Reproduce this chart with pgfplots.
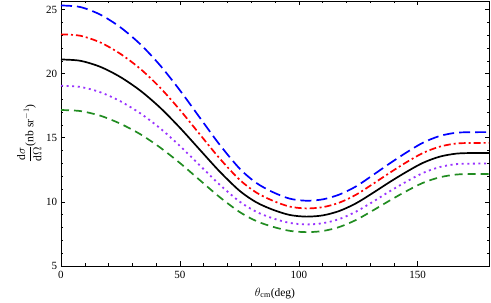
\documentclass[border=0pt]{standalone}
\usepackage{amsmath}
\usepackage{fontspec}
\setmainfont{Liberation Serif}
\usepackage{pgfplots}
\pgfplotsset{compat=1.18}
\usetikzlibrary{calc}
\definecolor{cblue}{rgb}{0,0,1}
\definecolor{cred}{rgb}{1,0,0}
\definecolor{cpurple}{rgb}{0.6,0.2,1}
\definecolor{cgreen}{rgb}{0.13,0.55,0.13}
\begin{document}
\fontsize{11bp}{13bp}\selectfont
\begin{tikzpicture}
\begin{axis}[
  scale only axis,
  width=428bp, height=265bp,
  xmin=0, xmax=180, ymin=5, ymax=25.66,
  xtick={0,50,100,150}, ytick={5,10,15,20,25},
  minor x tick num=4, minor y tick num=4,
  tick align=inside,
  major tick length=4.5bp, minor tick length=2.5bp,
  tick style={black, line width=0.5pt},
  axis line style={line width=0.6pt},
  /pgf/number format/assume math mode=true,
  ticklabel style={font=\fontsize{11bp}{13bp}\selectfont},
  label style={font=\fontsize{11.5bp}{13bp}\selectfont},
  xticklabel style={yshift=-1bp},
  xlabel={$\theta_{\mathrm{cm}}$(deg)},
  ylabel={$\dfrac{\mathrm{d}\sigma}{\mathrm{d}\Omega}$(nb sr$^{-1}$)},
  xlabel style={yshift=-2bp},
  ylabel style={yshift=-3bp},
  clip=true,
]
\addplot[cblue, line width=1.7bp, dash pattern=on 11bp off 5bp, smooth] coordinates {
(0,25.31)(8.1,25.19)(16.5,24.60)(24.9,23.62)(33.3,22.30)(41.6,20.66)(50,18.70)(58.4,16.56)(66.8,14.44)(75.2,12.58)(82.2,11.47)(89.2,10.75)(96.2,10.25)(103.2,10.09)(110.2,10.20)(117.2,10.58)(124.2,11.22)(131.2,12.09)(138.2,12.99)(145.2,13.84)(152.2,14.61)(159.2,15.13)(166.2,15.39)(173.2,15.43)(180,15.44)};
\addplot[cred, line width=1.7bp, dash pattern=on 7bp off 3bp on 2bp off 3bp, smooth] coordinates {
(0,23.06)(8.1,22.95)(16.5,22.43)(24.9,21.55)(33.3,20.38)(41.6,18.92)(50,17.17)(58.4,15.26)(66.8,13.37)(75.2,11.71)(82.2,10.72)(89.2,10.08)(96.2,9.63)(103.2,9.49)(110.2,9.59)(117.2,9.95)(124.2,10.57)(131.2,11.40)(138.2,12.26)(145.2,13.08)(152.2,13.81)(159.2,14.30)(166.2,14.55)(173.2,14.59)(180,14.60)};
\addplot[black, line width=1.7bp, smooth] coordinates {
(0,21.10)(8.1,21.00)(16.5,20.53)(24.9,19.74)(33.3,18.68)(41.6,17.36)(50,15.78)(58.4,14.06)(66.8,12.35)(75.2,10.85)(82.2,9.96)(89.2,9.38)(96.2,8.98)(103.2,8.85)(110.2,8.95)(117.2,9.30)(124.2,9.90)(131.2,10.70)(138.2,11.54)(145.2,12.33)(152.2,13.04)(159.2,13.52)(166.2,13.76)(173.2,13.81)(180,13.81)};
\addplot[cpurple, line width=1.8bp, dash pattern=on 2bp off 3.6bp, smooth] coordinates {
(0,19.05)(8.1,18.96)(16.5,18.55)(24.9,17.85)(33.3,16.91)(41.6,15.75)(50,14.36)(58.4,12.84)(66.8,11.33)(75.2,10.01)(82.2,9.22)(89.2,8.71)(96.2,8.36)(103.2,8.24)(110.2,8.34)(117.2,8.67)(124.2,9.25)(131.2,10.01)(138.2,10.82)(145.2,11.57)(152.2,12.25)(159.2,12.71)(166.2,12.94)(173.2,12.98)(180,12.99)};
\addplot[cgreen, line width=1.7bp, dash pattern=on 8bp off 5bp, smooth] coordinates {
(0,17.16)(8.1,17.08)(16.5,16.72)(24.9,16.10)(33.3,15.28)(41.6,14.25)(50,13.03)(58.4,11.69)(66.8,10.36)(75.2,9.20)(82.2,8.50)(89.2,8.05)(96.2,7.74)(103.2,7.64)(110.2,7.73)(117.2,8.05)(124.2,8.60)(131.2,9.33)(138.2,10.10)(145.2,10.83)(152.2,11.48)(159.2,11.91)(166.2,12.13)(173.2,12.17)(180,12.18)};
\end{axis}
\pgfresetboundingbox
\path[use as bounding box] ($(current axis.south west)+(-61bp,-37bp)$) rectangle ($(current axis.north east)+(2bp,1bp)$);
\end{tikzpicture}
\end{document}
